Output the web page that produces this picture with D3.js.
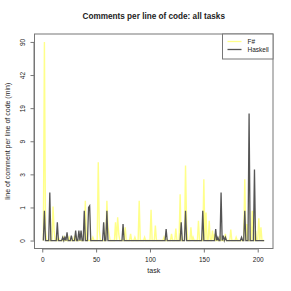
<!DOCTYPE html>
<html>
<head>
<meta charset="utf-8">
<script src="https://cdn.jsdelivr.net/npm/d3@7"></script>
<style>
  body { margin: 0; background: #fff; }
  text { font-family: "Liberation Sans", Arial, sans-serif; fill: #222; }
</style>
</head>
<body>
<div class="chart"></div>
<script>
// comments per line of code, one value per task (1..206)
var fsharp = [
  0, 90, 0.3, 0, 0, 0, 0, 0, 0, 1.06,
  0.3, 0, 0, 0, 0.1, 0, 0, 0, 0, 0.1,
  0, 0, 0, 0, 0.1, 0, 0, 0, 0, 0.15,
  0, 0, 0, 0, 0, 0, 0, 0, 0.2, 1.4,
  0, 0, 0, 0, 0, 0, 0.1, 0, 0, 0,
  0, 5.2, 0.3, 0, 0, 0, 0, 0, 0, 1.4,
  0.4, 0.2, 0, 0, 0, 0, 0, 0.55, 0, 0.7,
  0.2, 0, 0, 0, 0, 0, 0.4, 0, 0, 0,
  0, 0.2, 0, 0, 0, 0.1, 0, 0, 0, 1.4,
  0, 0, 0, 0, 0.1, 0, 0, 0, 0, 0,
  0.93, 0, 0, 0, 0.45, 0, 0, 0, 0, 0,
  0, 0, 0.1, 0, 0, 0, 0, 0, 0, 0.2,
  0, 0, 0, 0.36, 0, 0, 0, 1.8, 0, 0,
  0, 0, 4.6, 0.5, 0, 0, 0, 0.4, 0, 0.1,
  0, 0, 0, 0, 0.6, 0, 0, 0, 0, 2.7,
  0, 0.85, 0, 0, 0.6, 0, 0, 0.3, 0, 0.2,
  0, 0, 0, 0, 0.15, 0, 0, 0, 0, 0.2,
  0, 0, 0, 0, 0.33, 0, 0, 0, 0, 0.1,
  0, 0, 0, 0, 0, 0, 0, 2.7, 0, 0.5,
  0, 0, 0, 0, 0.9, 0, 0, 0.3, 0, 0,
  0.67, 0, 0.4, 0, 0, 0
];

var haskell = [
  0, 0.9, 0, 0, 0, 0, 1.9, 0, 0, 0,
  0, 0, 0, 0.55, 0, 0, 0, 0, 0.1, 0,
  0.1, 0, 0.25, 0, 0, 0, 0.15, 0, 0, 0,
  0.3, 0, 0, 0.3, 0, 0.3, 0, 0, 0.9, 0,
  0, 0, 1.0, 1.1, 0, 0, 0, 0, 0, 0,
  0, 0, 0, 0, 0, 0, 0.55, 0, 0, 0.9,
  0, 0, 0, 0, 0, 0, 0, 0, 0, 0,
  0, 0, 0, 0, 0.5, 0, 0, 0, 0, 0,
  0, 0, 0, 0, 0, 0, 0, 0, 0, 0,
  0, 0, 0, 0, 0, 0, 0, 0, 0, 0,
  0, 0, 0, 0, 0, 0, 0, 0, 0, 0,
  0, 0, 0, 0, 0.35, 0, 0, 0, 0, 0,
  0, 0, 0, 0, 0, 0, 0, 0, 0.55, 0,
  0, 0, 0.9, 0, 0, 0, 0, 0, 0, 0,
  0, 0, 0, 0, 0, 0, 0, 0, 0.9, 0,
  0, 0, 0, 0, 0, 0, 0, 0, 0, 0,
  0.35, 0, 0.1, 0, 0, 1.9, 0, 0.15, 0, 0.1,
  0, 0, 0, 0, 0, 0, 0, 0, 0, 0,
  0, 0, 0, 0, 0.1, 0, 0, 0.9, 0, 0,
  0, 17.4, 0, 0, 0, 0, 3.9, 0, 0, 0,
  0, 0, 0, 0, 0, 0
];

var yTicks = [0, 1, 3, 9, 19, 42, 90];
var xTicks = [0, 50, 100, 150, 200];
var seriesNames = ["F#", "Haskell"];
var seriesColors = ["#ffff8a", "#555555"];

var W = 291, H = 291;
var plot = {left: 34.5, right: 273, top: 34, bottom: 248.5};

var svg = d3.select(".chart").append("svg")
    .attr("width", W)
    .attr("height", H);

var n = fsharp.length;
var padX = (n - 1) * 0.04;
var x = d3.scaleLinear()
    .domain([1 - padX, n + padX])
    .range([plot.left, plot.right]);

// y axis is stretched: each labelled value sits one step up
var steps = d3.scaleLinear()
    .domain([-0.24, yTicks.length - 1 + 0.24])
    .range([plot.bottom, plot.top]);
var y = d3.scaleLinear()
    .domain(yTicks)
    .range(yTicks.map(function(d, i){ return steps(i); }));

var line = d3.line()
    .x(function(d, i){ return x(i + 1); })
    .y(function(d){ return y(d); });

svg.append("path")
    .datum(fsharp)
    .attr("d", line)
    .attr("fill", "none")
    .attr("stroke", seriesColors[0])
    .attr("stroke-width", 1.4);

svg.append("path")
    .datum(haskell)
    .attr("d", line)
    .attr("fill", "none")
    .attr("stroke", seriesColors[1])
    .attr("stroke-width", 1.3);

// box
svg.append("rect")
    .attr("x", plot.left)
    .attr("y", plot.top)
    .attr("width", plot.right - plot.left)
    .attr("height", plot.bottom - plot.top)
    .attr("fill", "none")
    .attr("stroke", "#777")
    .attr("stroke-width", 1);

var xAxis = d3.axisBottom(x).tickValues(xTicks).tickSize(4).tickPadding(5);
var yAxis = d3.axisLeft(y).tickValues(yTicks).tickSize(4).tickFormat(d3.format("d"));

var gx = svg.append("g")
    .attr("transform", "translate(0," + plot.bottom + ")")
    .call(xAxis);
gx.select(".domain").attr("d", "M" + x(0) + ",0.5H" + x(200)).attr("stroke", "#777");
gx.selectAll(".tick line").attr("stroke", "#777");
gx.selectAll("text").attr("font-size", 6.5).attr("fill", "#222")
    .attr("font-family", "Liberation Sans, Arial, sans-serif");

var gy = svg.append("g")
    .attr("transform", "translate(" + plot.left + ",0)")
    .call(yAxis);
gy.select(".domain").attr("d", "M-0.5," + y(0) + "V" + y(90)).attr("stroke", "#777");
gy.selectAll(".tick line").attr("stroke", "#777");
gy.selectAll("text")
    .attr("font-size", 6.5).attr("fill", "#222")
    .attr("font-family", "Liberation Sans, Arial, sans-serif")
    .attr("x", null).attr("dy", null)
    .attr("text-anchor", "middle")
    .attr("transform", "translate(-10,0)rotate(-90)");

svg.append("text")
    .attr("text-anchor", "middle")
    .attr("x", (plot.left + plot.right) / 2)
    .attr("y", 19)
    .attr("font-size", 8.2)
    .attr("font-weight", "bold")
    .text("Comments per line of code: all tasks");

svg.append("text")
    .attr("text-anchor", "middle")
    .attr("x", (plot.left + plot.right) / 2)
    .attr("y", 273)
    .attr("font-size", 7)
    .text("task");

svg.append("text")
    .attr("text-anchor", "middle")
    .attr("transform", "translate(10," + ((plot.top + plot.bottom) / 2) + ")rotate(-90)")
    .attr("font-size", 7)
    .text("line of comment per line of code (min)");

// legend, top right
var lg = svg.append("g").attr("transform", "translate(222.5," + plot.top + ")");
lg.append("rect")
    .attr("width", plot.right - 222.5)
    .attr("height", 25)
    .attr("fill", "#fff")
    .attr("stroke", "#777");
seriesNames.forEach(function(name, i){
  var ly = 7.5 + i * 8;
  lg.append("line")
      .attr("x1", 5).attr("x2", 19)
      .attr("y1", ly).attr("y2", ly)
      .attr("stroke", seriesColors[i])
      .attr("stroke-width", 1.3);
  lg.append("text")
      .attr("x", 25)
      .attr("y", ly + 2.3)
      .attr("font-size", 6.5)
      .text(name);
});
</script>
</body>
</html>
